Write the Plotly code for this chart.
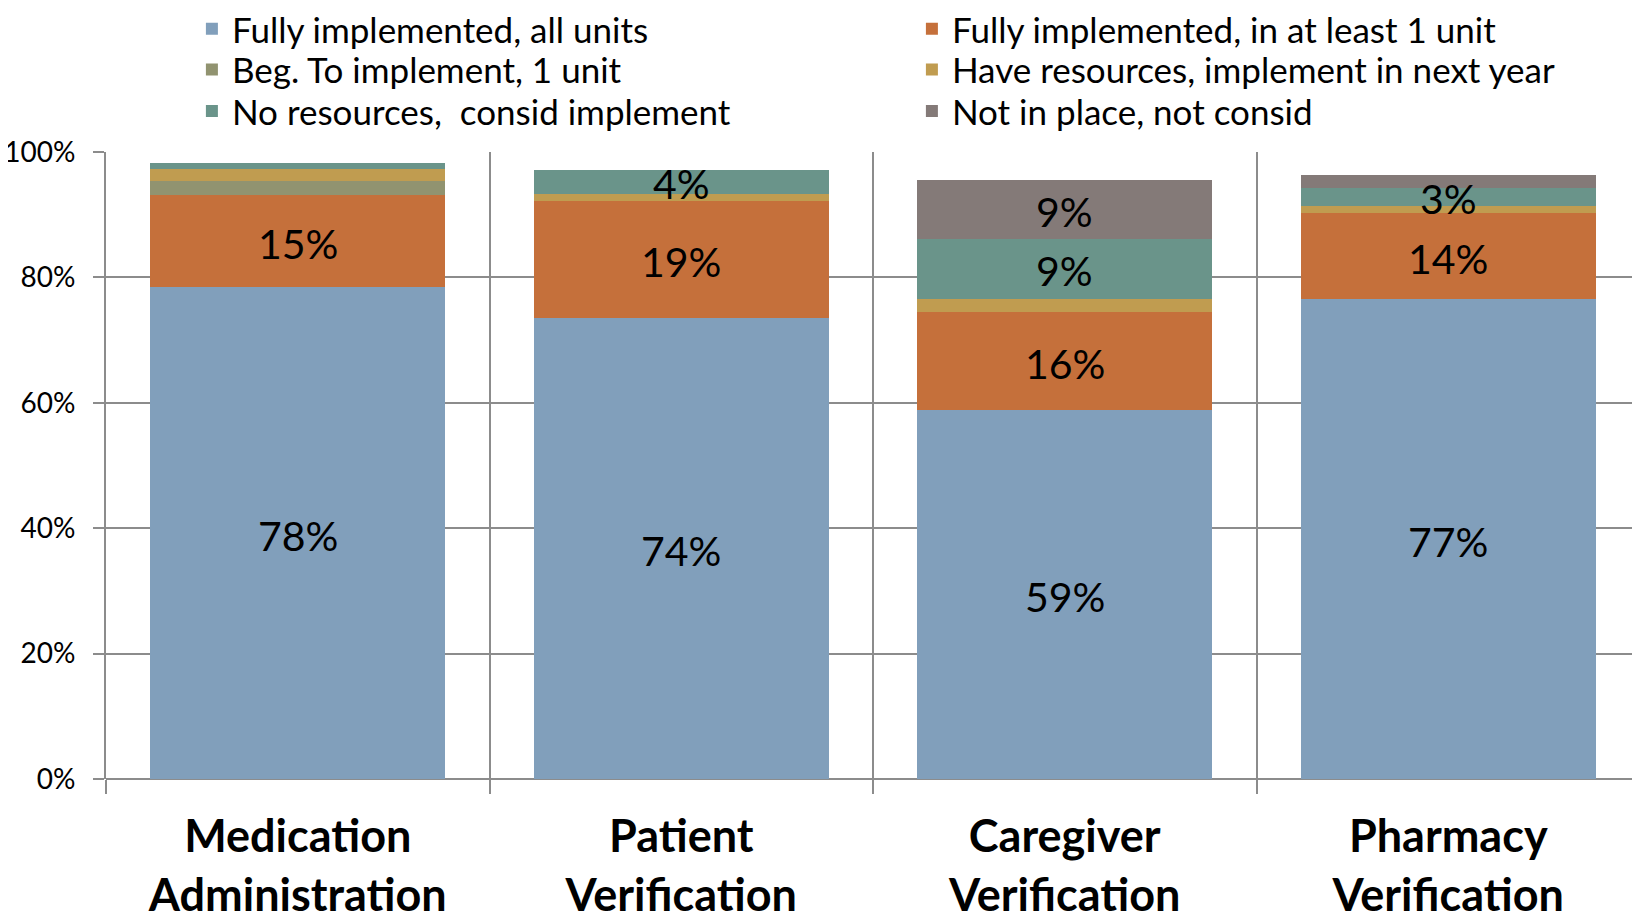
import plotly.graph_objects as go

categories = ["Medication<br>Administration", "Patient<br>Verification",
              "Caregiver<br>Verification", "Pharmacy<br>Verification"]

series_names = ["Fully implemented, all units", "Fully implemented, in at least 1 unit",
                "Beg. To implement, 1 unit", "Have resources, implement in next year",
                "No resources,  consid implement", "Not in place, not consid"]

fully_all = [78.4, 73.5, 58.8, 76.5]
fully_one = [14.8, 18.7, 15.7, 13.8]
beg_one = [2.1, 0.0, 0.0, 0.0]
have_res = [2.0, 1.1, 2.1, 1.1]
no_res = [1.0, 3.9, 9.5, 2.9]
not_place = [0.0, 0.0, 9.4, 2.0]

labels_fully_all = ["78%", "74%", "59%", "77%"]
labels_fully_one = ["15%", "19%", "16%", "14%"]
labels_beg_one = ["", "", "", ""]
labels_have_res = ["", "", "", ""]
labels_no_res = ["", "4%", "9%", "3%"]
labels_not_place = ["", "", "9%", ""]

colors = ["#819FBB", "#C5703B", "#919370", "#C09C50", "#6A948A", "#847A78"]

all_values = [fully_all, fully_one, beg_one, have_res, no_res, not_place]
all_labels = [labels_fully_all, labels_fully_one, labels_beg_one,
              labels_have_res, labels_no_res, labels_not_place]

# legend rows: two entries per row, as in the reference
legend_rows = ["legend", "legend", "legend2", "legend2", "legend3", "legend3"]

fig = go.Figure()
for name, vals, col, lg in zip(series_names, all_values, colors, legend_rows):
    fig.add_trace(go.Bar(
        x=categories, y=[v / 100 for v in vals], name=name,
        marker=dict(color=col, line=dict(width=0)),
        legend=lg, hoverinfo="skip",
    ))

# data labels drawn on top of all bars, centred in their segments
base = [0.0] * len(categories)
for vals, labs in zip(all_values, all_labels):
    for i, (v, t) in enumerate(zip(vals, labs)):
        if t:
            fig.add_annotation(
                x=categories[i], y=(base[i] + v / 2) / 100, text=t,
                showarrow=False, xanchor="center", yanchor="middle", yshift=-2,
                font=dict(family="Lato", size=41, color="black"),
            )
        base[i] += v

grid_col = "#8C8C8C"
legend_font = dict(family="Lato", size=35, color="black")
legend_common = dict(orientation="h", x=0.056, xref="paper", yref="paper",
                     xanchor="left", yanchor="middle", entrywidth=675,
                     font=legend_font, traceorder="normal",
                     bgcolor="rgba(0,0,0,0)")
fig.update_layout(
    barmode="stack", bargap=0.23,
    width=1632, height=915,
    paper_bgcolor="white", plot_bgcolor="white",
    margin=dict(l=98, r=0, t=144, b=144, autoexpand=False),
    font=dict(family="Lato", color="black"),
    showlegend=True,
    legend=dict(y=1.196, **legend_common),
    legend2=dict(y=1.131, **legend_common),
    legend3=dict(y=1.065, **legend_common),
)
fig.update_xaxes(
    tickson="boundaries", showgrid=True, gridcolor=grid_col, gridwidth=2,
    ticks="outside", ticklen=14, tickwidth=2, tickcolor=grid_col,
    showline=False, range=[-0.5, 3.5], ticklabelstandoff=27,
    tickfont=dict(family="Lato", size=45, color="black", weight="bold"),
)
fig.update_yaxes(
    range=[0, 1], dtick=0.2, tickformat=".0%",
    showgrid=True, gridcolor=grid_col, gridwidth=2,
    showline=True, linecolor=grid_col, linewidth=2,
    ticks="outside", ticklen=11, tickwidth=2, tickcolor=grid_col,
    ticklabelstandoff=12,
    tickfont=dict(family="Lato", size=28, color="black"),
    zeroline=True, zerolinecolor=grid_col, zerolinewidth=2,
)

fig.write_html("out.html")
